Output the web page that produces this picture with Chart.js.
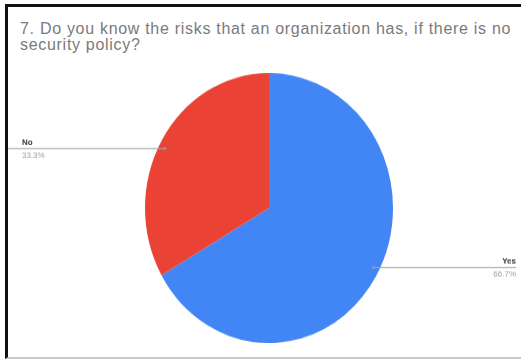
<!DOCTYPE html>
<html>
<head>
<meta charset="utf-8">
<script src="https://cdn.jsdelivr.net/npm/chart.js@4.4.0/dist/chart.umd.min.js"></script>
<style>
  html, body { margin: 0; padding: 0; width: 521px; height: 359px; overflow: hidden; background: #fff; }
  #frame {
    position: absolute; left: 5px; top: 4px; width: 516px; height: 350px;
    border-top: 3px solid #111; border-left: 3px solid #111; border-bottom: 2px solid #c9c9c9;
  }
  #title {
    position: absolute; left: 20px; top: 21px; width: 495px;
    font-family: "Liberation Sans", Arial, sans-serif; font-size: 16px; line-height: 16px;
    letter-spacing: 0.7px; color: #7a7a7a;
  }
  /* pie is drawn as a circle and stretched a little vertically */
  #pieWrap {
    position: absolute; left: 0; top: 73px; width: 538px; height: 248px;
    transform: scaleY(1.089); transform-origin: 0 0;
  }
</style>
</head>
<body>
<div id="frame"></div>
<div id="title">7. Do you know the risks that an organization has, if there is no security policy?</div>
<div id="pieWrap"><canvas id="chartPie"></canvas></div>
<script>
const labels = ["Yes", "No"];
const values = [66.7, 33.3];
const colors = ["#4285f4", "#ea4335"];

const STRETCH = 1.089;

// leader lines running out to the frame, name above, percent below
const leaderLabels = {
    id: "leaderLabels",
    afterDatasetsDraw(chart) {
        const ctx = chart.ctx;
        const meta = chart.getDatasetMeta(0);
        meta.data.forEach((arc, i) => {
            const mid = (arc.startAngle + arc.endAngle) / 2;
            const ax = arc.x + Math.cos(mid) * arc.outerRadius * 0.97;
            const ay = arc.y + Math.sin(mid) * arc.outerRadius * 0.88;
            const right = Math.cos(mid) > 0;
            const endX = right ? 516 : 8;
            const textX = right ? 516 : 22;

            ctx.save();
            ctx.strokeStyle = "#a8a8a8";
            ctx.lineWidth = 1;
            ctx.beginPath();
            ctx.moveTo(ax, ay);
            ctx.lineTo(endX, ay);
            ctx.stroke();
            ctx.fillStyle = "#999";
            ctx.beginPath();
            ctx.arc(ax, ay, 1.3, 0, Math.PI * 2);
            ctx.fill();

            ctx.translate(textX, ay);
            ctx.scale(1, 1 / STRETCH);
            ctx.textAlign = right ? "right" : "left";
            ctx.textBaseline = "alphabetic";
            ctx.font = "bold 8px 'Liberation Sans', Arial, sans-serif";
            ctx.fillStyle = "#333";
            ctx.fillText(labels[i], 0, -4);
            ctx.font = "8px 'Liberation Sans', Arial, sans-serif";
            ctx.fillStyle = "#9e9e9e";
            ctx.fillText(values[i].toFixed(1) + "%", 0, 9);
            ctx.restore();
        });
    },
};

new Chart(document.getElementById("chartPie"), {
    type: "pie",
    data: {
        labels: labels,
        datasets: [
            {
                data: values,
                backgroundColor: colors,
                borderWidth: 0,
            },
        ],
    },
    options: {
        responsive: true,
        maintainAspectRatio: false,
        animation: false,
        layout: { padding: 0 },
        plugins: {
            legend: { display: false },
            tooltip: { enabled: false },
        },
    },
    plugins: [leaderLabels],
});
</script>
</body>
</html>
